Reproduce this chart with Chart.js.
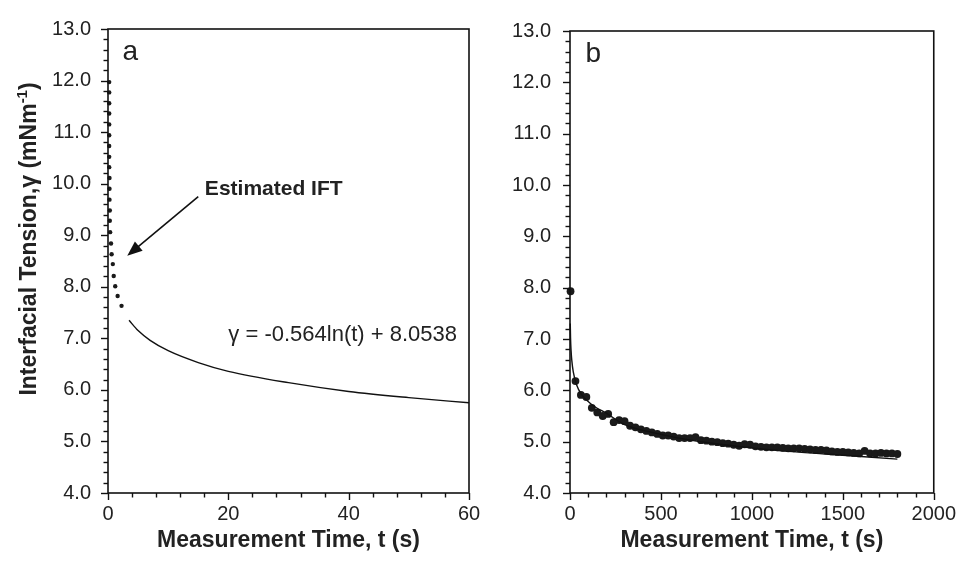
<!DOCTYPE html>
<html><head><meta charset="utf-8">
<script src="https://cdn.jsdelivr.net/npm/chart.js@4/dist/chart.umd.min.js"></script>
<style>
body{margin:0;background:#fff;width:965px;height:561px;overflow:hidden;position:relative}
canvas{position:absolute;top:0}
</style></head><body>
<canvas id="ca" width="490" height="561" style="left:0"></canvas>
<canvas id="cb" width="475" height="561" style="left:490px"></canvas>
<script>
// ---- data ----
const yTickValues = [4, 5, 6, 7, 8, 9, 10, 11, 12, 13];
const aXTickValues = [0, 20, 40, 60];
const bXTickValues = [0, 500, 1000, 1500, 2000];

const aDotTime = [0.2,0.2,0.2,0.2,0.2,0.2,0.2,0.2,0.2,0.25,0.25,0.25,0.3,0.3,0.35,0.5,0.6,0.8,0.95,1.2,1.6,2.25];
const aDotTension = [11.97,11.77,11.56,11.36,11.15,10.94,10.73,10.52,10.32,10.11,9.90,9.69,9.48,9.28,9.06,8.84,8.63,8.44,8.21,8.01,7.82,7.63];

const aFitTime = [3.5,5,7,10,15,20,30,40,50,60];
const aFitTension = [7.35,7.15,6.96,6.76,6.53,6.36,6.14,5.97,5.85,5.75];

const bDotTime = [3,30,60,90,120,150,180,210,240,270,300,330,360,390,420,450,480,510,540,570,600,630,660,690,720,750,780,810,840,870,900,930,960,990,1020,1050,1080,1110,1140,1170,1200,1230,1260,1290,1320,1350,1380,1410,1440,1470,1500,1530,1560,1590,1620,1650,1680,1710,1740,1770,1800];
const bDotTension = [7.93,6.18,5.91,5.87,5.66,5.57,5.50,5.54,5.38,5.42,5.40,5.31,5.28,5.24,5.21,5.18,5.15,5.12,5.12,5.10,5.07,5.07,5.07,5.09,5.03,5.02,5.00,4.99,4.97,4.96,4.94,4.92,4.95,4.94,4.91,4.90,4.89,4.89,4.89,4.88,4.87,4.87,4.87,4.86,4.85,4.84,4.84,4.83,4.81,4.80,4.80,4.79,4.78,4.77,4.82,4.77,4.77,4.78,4.77,4.77,4.76];

const bFitTime = [1.5,3,6,10,18,36,63,117,206,300,450,600,800,1000,1200,1400,1600,1800];
const bFitTension = [7.30,7.02,6.77,6.58,6.36,6.11,5.92,5.73,5.54,5.33,5.18,5.07,4.96,4.88,4.81,4.76,4.71,4.66];

const xTitle = "Measurement Time, t (s)";
const yTitleMain = "Interfacial Tension,\u03B3 (mNm";
const yTitleSup = "-1";
const yTitleEnd = ")";
const eqText = "\u03B3 = -0.564ln(t) + 8.0538";
const arrowText = "Estimated IFT";

// ---- helpers ----
const FONT = '"Liberation Sans", Arial, sans-serif';
const pts = (xs, ys) => xs.map((x, i) => ({x: x, y: ys[i]}));

const framePlugin = {
  id: 'frame',
  afterDraw(chart, args, o) {
    const ctx = chart.ctx, ca = chart.chartArea;
    const xs = chart.scales.x, ys = chart.scales.y;
    ctx.save();
    ctx.strokeStyle = '#111';
    ctx.lineWidth = 1.6;
    ctx.strokeRect(ca.left, ca.top, ca.right - ca.left, ca.bottom - ca.top);
    ctx.lineWidth = 1.4;
    for (let v = ys.min; v <= ys.max + 1e-6; v += 0.2) {
      const major = Math.abs(v - Math.round(v)) < 1e-6;
      const py = Math.round(ys.getPixelForValue(v)) + 0.5;
      const len = major ? 7 : 4.5;
      ctx.beginPath(); ctx.moveTo(ca.left - len, py); ctx.lineTo(ca.left, py); ctx.stroke();
    }
    for (let v = xs.min; v <= xs.max + 1e-6; v += o.xMinor) {
      const major = Math.abs(v / o.xMajor - Math.round(v / o.xMajor)) < 1e-6;
      const px = Math.round(xs.getPixelForValue(v)) + 0.5;
      const len = major ? 7 : 4.5;
      ctx.beginPath(); ctx.moveTo(px, ca.bottom); ctx.lineTo(px, ca.bottom + len); ctx.stroke();
    }
    ctx.fillStyle = '#222';
    ctx.font = 'bold 23px ' + FONT;
    ctx.textAlign = 'center'; ctx.textBaseline = 'middle';
    ctx.fillText(xTitle, (ca.left + ca.right) / 2, 541);
    ctx.font = '28px ' + FONT;
    ctx.textAlign = 'left'; ctx.textBaseline = 'middle';
    ctx.fillText(o.letter, xs.getPixelForValue(o.letterX), ys.getPixelForValue(12.55));
    if (o.yTitle) {
      ctx.save();
      ctx.translate(30, 239);
      ctx.rotate(-Math.PI / 2);
      ctx.font = 'bold 23px ' + FONT;
      const w1 = ctx.measureText(yTitleMain).width;
      const w3 = ctx.measureText(yTitleEnd).width;
      ctx.font = 'bold 15px ' + FONT;
      const w2 = ctx.measureText(yTitleSup).width;
      const start = -(w1 + w2 + w3) / 2;
      ctx.textAlign = 'left'; ctx.textBaseline = 'middle';
      ctx.font = 'bold 23px ' + FONT;
      ctx.fillText(yTitleMain, start, 0);
      ctx.font = 'bold 15px ' + FONT;
      ctx.fillText(yTitleSup, start + w1, -7);
      ctx.font = 'bold 23px ' + FONT;
      ctx.fillText(yTitleEnd, start + w1 + w2, 0);
      ctx.restore();
    }
    if (o.annotate) {
      ctx.font = 'bold 21px ' + FONT;
      ctx.textAlign = 'left'; ctx.textBaseline = 'middle';
      ctx.fillText(arrowText, xs.getPixelForValue(16.1), ys.getPixelForValue(9.9));
      ctx.font = '22px ' + FONT;
      ctx.fillText(eqText, xs.getPixelForValue(20), ys.getPixelForValue(7.07));
      const x0 = xs.getPixelForValue(15), y0 = ys.getPixelForValue(9.75);
      const x1 = xs.getPixelForValue(3.2), y1 = ys.getPixelForValue(8.6);
      const ang = Math.atan2(y1 - y0, x1 - x0);
      ctx.strokeStyle = '#111'; ctx.lineWidth = 1.6;
      ctx.beginPath(); ctx.moveTo(x0, y0);
      ctx.lineTo(x1 - 10 * Math.cos(ang), y1 - 10 * Math.sin(ang)); ctx.stroke();
      ctx.fillStyle = '#111';
      ctx.beginPath();
      ctx.moveTo(x1, y1);
      ctx.lineTo(x1 - 15 * Math.cos(ang) + 6 * Math.sin(ang), y1 - 15 * Math.sin(ang) - 6 * Math.cos(ang));
      ctx.lineTo(x1 - 15 * Math.cos(ang) - 6 * Math.sin(ang), y1 - 15 * Math.sin(ang) + 6 * Math.cos(ang));
      ctx.closePath(); ctx.fill();
    }
    ctx.restore();
  }
};

function makeChart(id, cfg) {
  return new Chart(document.getElementById(id), {
    type: 'scatter',
    data: {
      datasets: [
        {data: pts(cfg.dotX, cfg.dotY), showLine: false, pointRadius: cfg.r, pointHoverRadius: cfg.r,
         backgroundColor: '#1a1a1a', borderColor: '#1a1a1a', borderWidth: 0, clip: false, order: 2},
        {data: pts(cfg.fitX, cfg.fitY), showLine: true, pointRadius: 0, borderColor: '#111',
         borderWidth: 1.4, cubicInterpolationMode: 'monotone', fill: false, clip: false, order: 1}
      ]
    },
    options: {
      responsive: false, animation: false, events: [],
      layout: {padding: {top: 23, right: cfg.padRight, left: 0, bottom: 0}},
      plugins: {legend: {display: false}, tooltip: {enabled: false},
        frame: {xMinor: cfg.xMinor, xMajor: cfg.xMajor, letter: cfg.letter, letterX: cfg.letterX,
                yTitle: cfg.yTitle, annotate: cfg.annotate}},
      scales: {
        x: {type: 'linear', min: cfg.xMin, max: cfg.xMax,
            afterBuildTicks: s => { s.ticks = cfg.xTicks.map(v => ({value: v})); },
            afterFit: s => { s.height = 68; },
            grid: {display: false, drawTicks: false}, border: {display: false},
            ticks: {padding: 9, color: '#222', font: {family: FONT, size: 20},
                    callback: v => String(v), maxRotation: 0, autoSkip: false}},
        y: {type: 'linear', min: 4, max: 13,
            afterBuildTicks: s => { s.ticks = yTickValues.map(v => ({value: v})); },
            afterFit: s => { s.width = cfg.yWidth; },
            grid: {display: false, drawTicks: false}, border: {display: false},
            ticks: {padding: cfg.yPad, color: '#222', font: {family: FONT, size: 20},
                    callback: v => Number(v).toFixed(1), autoSkip: false}}
      }
    },
    plugins: [framePlugin]
  });
}

makeChart('ca', {dotX: aDotTime, dotY: aDotTension, fitX: aFitTime, fitY: aFitTension, r: 2.2,
  xMin: 0, xMax: 60, xTicks: aXTickValues, xMinor: 4, xMajor: 20, padRight: 21, yWidth: 108, yPad: 17,
  letter: 'a', letterX: 2.4, yTitle: true, annotate: true});
makeChart('cb', {dotX: bDotTime, dotY: bDotTension, fitX: bFitTime, fitY: bFitTension, r: 3.9,
  xMin: 0, xMax: 2000, xTicks: bXTickValues, xMinor: 100, xMajor: 500, padRight: 25, yWidth: 80, yPad: 19,
  letter: 'b', letterX: 85, yTitle: false, annotate: false});
</script>
</body></html>
